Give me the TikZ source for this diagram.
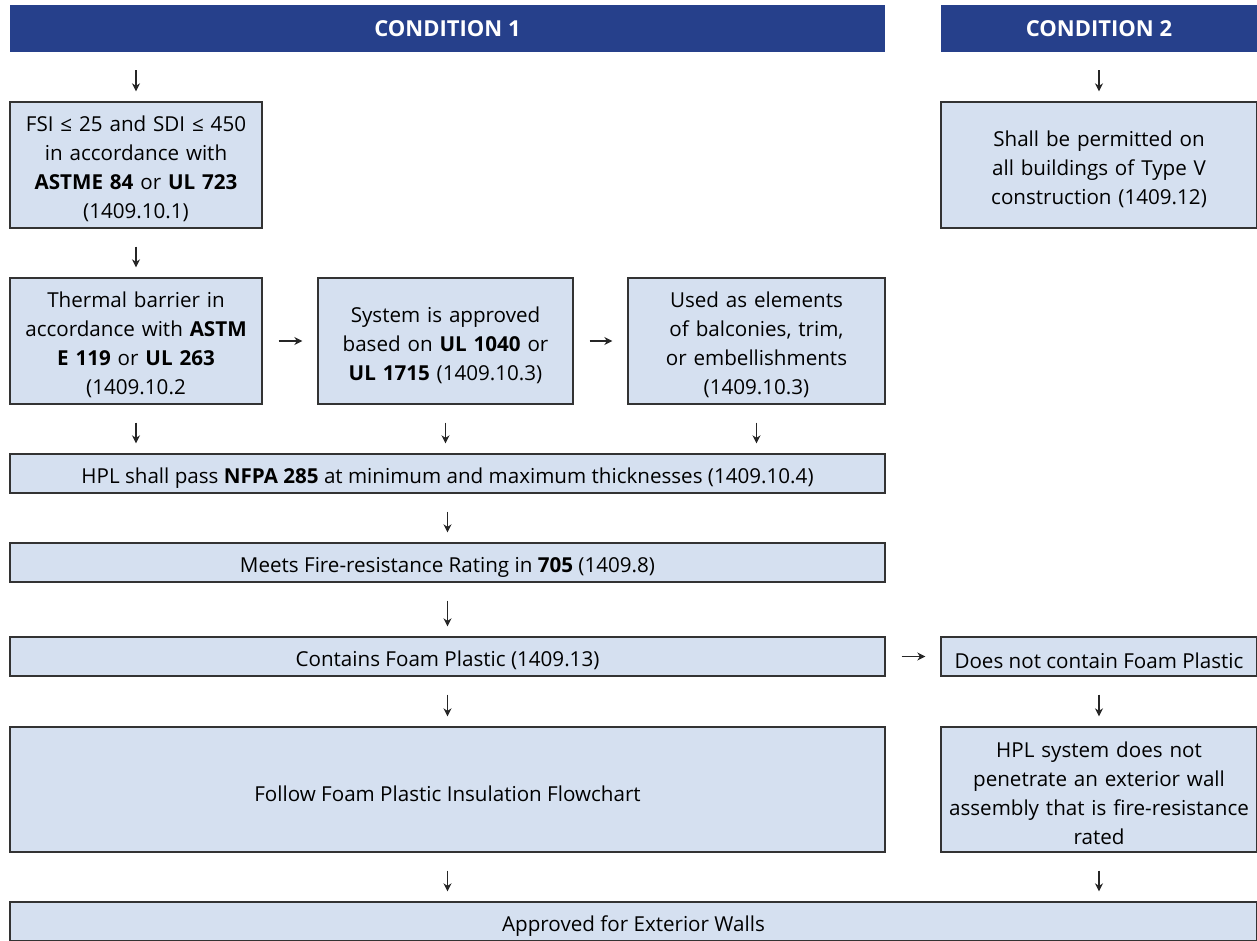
\documentclass[tikz,border=0pt]{standalone}
\usepackage{fontspec}
\setmainfont{Open Sans}
\usetikzlibrary{arrows.meta}
\definecolor{hdrblue}{HTML}{26408B}
\definecolor{boxfill}{HTML}{D5E0F0}
\definecolor{boxline}{HTML}{333333}
\begin{document}
\begin{tikzpicture}[x=1pt,y=-1pt,
    every node/.style={font=\fontsize{20.6}{29}\selectfont, inner sep=0pt, align=center},
    hdr/.style={fill=hdrblue, text=white, font=\fontsize{22}{29}\selectfont\bfseries,
      minimum height=47pt},
    cell/.style={draw=boxline, line width=1.3pt, fill=boxfill,
      execute at begin node={\rule{0pt}{24pt}}},
    flow/.style={-{Stealth[length=8pt,width=8pt,inset=2.5pt]}, line width=1.4pt, draw=black!85,
      shorten <=18pt, shorten >=10pt},
    flowr/.style={flow, shorten <=16pt, shorten >=15pt}]
  \useasboundingbox (0,0) rectangle (1257,941);
  \clip (0,0) rectangle (1257,941);
  % headers
  \node[hdr, minimum width=875pt] (c1) at (447.5,28.5) {CONDITION 1};
  \node[hdr, minimum width=316pt] (c2) at (1099,28.5) {CONDITION 2};
  % condition 1
  \node[cell, minimum width=252pt, minimum height=126pt, text width=246pt] (fsi) at (136,165)
    {FSI ≤ 25 and SDI ≤ 450\\in accordance with\\\textbf{ASTME 84} or \textbf{UL 723}\\(1409.10.1)};
  \node[cell, minimum width=252pt, minimum height=126pt, text width=250pt] (thermal) at (136,341)
    {Thermal barrier in\\accordance with \textbf{ASTM}\\\textbf{E 119} or \textbf{UL 263}\\(1409.10.2};
  \node[cell, minimum width=255pt, minimum height=126pt, text width=250pt] (system) at (445.5,341)
    {System is approved\\based on \textbf{UL 1040} or\\\textbf{UL 1715} (1409.10.3)};
  \node[cell, minimum width=257pt, minimum height=126pt, text width=250pt] (trim) at (756.5,341)
    {Used as elements\\of balconies, trim,\\or embellishments\\(1409.10.3)};
  \node[cell, minimum width=875pt, minimum height=39pt] (nfpa) at (447.5,473.5)
    {HPL shall pass \textbf{NFPA 285} at minimum and maximum thicknesses (1409.10.4)};
  \node[cell, minimum width=875pt, minimum height=39pt] (rating) at (447.5,562.5)
    {Meets Fire-resistance Rating in \textbf{705} (1409.8)};
  \node[cell, minimum width=875pt, minimum height=39pt] (foam) at (447.5,656.5)
    {Contains Foam Plastic (1409.13)};
  \node[cell, minimum width=875pt, minimum height=125pt] (follow) at (447.5,789.5)
    {Follow Foam Plastic Insulation Flowchart};
  % condition 2
  \node[cell, minimum width=316pt, minimum height=126pt, text width=310pt] (typev) at (1099,165)
    {Shall be permitted on\\all buildings of Type V\\construction (1409.12)};
  \node[cell, minimum width=316pt, minimum height=39pt] (nofoam) at (1099,656.5)
    {Does not contain Foam Plastic};
  \node[cell, minimum width=316pt, minimum height=125pt, text width=310pt] (wall) at (1099,789.5)
    {HPL system does not\\penetrate an exterior wall\\assembly that is fire-resistance\\rated};
  % end
  \node[cell, minimum width=1247pt, minimum height=39pt] (approved) at (633.5,921.5)
    {Approved for Exterior Walls};
  % arrows
  \begin{scope}[flow]
    \draw (c1.south -| fsi) to (fsi);
    \draw (fsi) to (thermal);
    \draw (thermal) to (nfpa.north -| thermal);
    \draw (system) to (nfpa.north -| system);
    \draw (trim) to (nfpa.north -| trim);
    \draw (nfpa) to (rating);
    \draw (rating) to (foam);
    \draw (foam) to (follow);
    \draw (follow) to (approved.north -| follow);
    \draw (c2) to (typev);
    \draw (nofoam) to (wall);
    \draw (wall) to (approved.north -| wall);
  \end{scope}
  \begin{scope}[flowr]
    \draw (thermal) to (system);
    \draw (system) to (trim);
    \draw (foam) to (nofoam);
  \end{scope}
\end{tikzpicture}
\end{document}
